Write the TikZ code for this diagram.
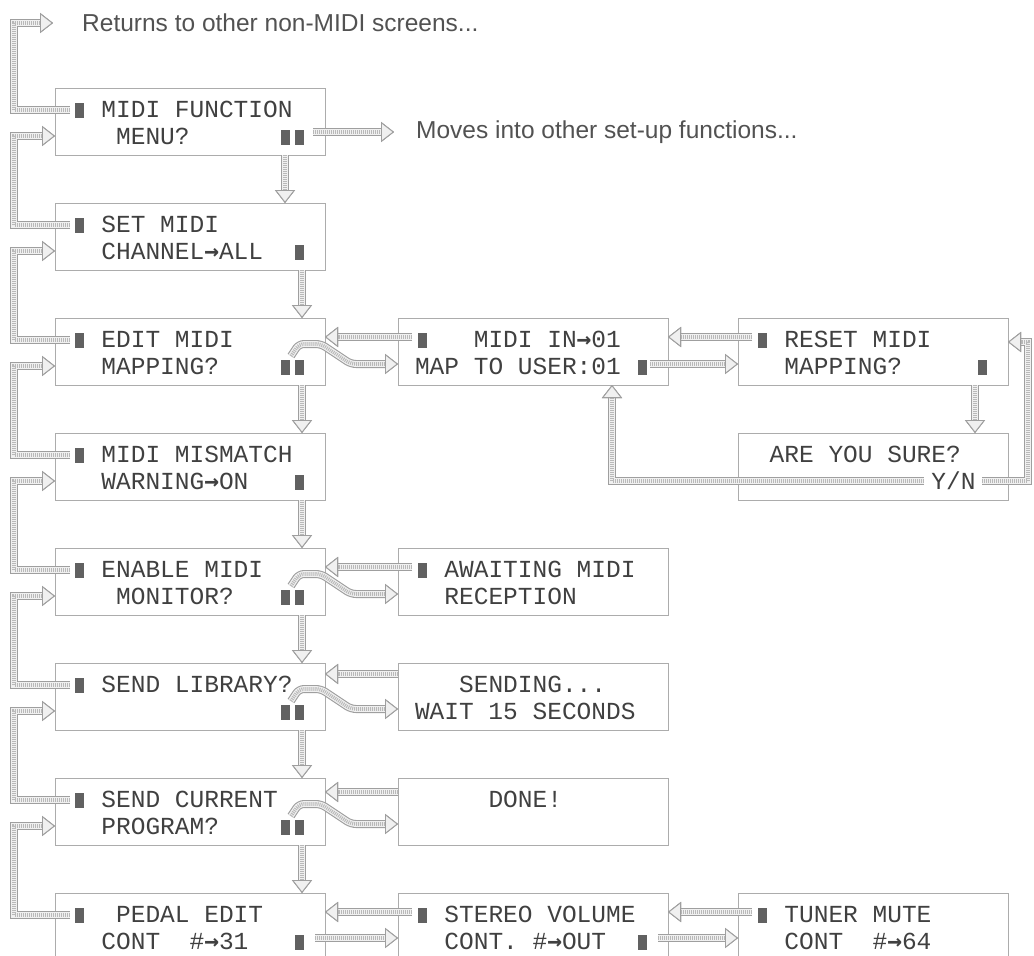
\documentclass[tikz,border=0pt]{standalone}
\usepackage{fontspec}
\setmainfont{Liberation Sans}
\newfontfamily\lcdmono{Liberation Mono}
\newfontfamily\arrfont{DejaVu Sans Mono}
\usepackage{tikz}
\usetikzlibrary{arrows.meta, positioning, calc}

\definecolor{curs}{gray}{0.38}
\newcommand\lcdfont{\lcdmono\fontsize{24.5pt}{27pt}\selectfont}
\newcommand\notefont{\fontsize{24.5pt}{28pt}\selectfont}
\newcommand\lcdcur{\makebox[14.7pt][c]{\textcolor{curs}{\rule[-0.5pt]{9pt}{15pt}}}}
\newcommand\lcdarr{\makebox[14.7pt][c]{\arrfont\bfseries →}}
\newcommand\lcd[2]{\spaceskip=14.7pt\xspaceskip=14.7pt\rule{0pt}{19pt}#1\\\mbox{}#2}

\tikzset{
  lcdbox/.style={draw=gray!65, line width=0.9pt, minimum width=270pt,
    minimum height=67pt, inner sep=0pt, outer sep=0pt, text width=236pt,
    align=left, font=\lcdfont, text=black!75},
  note/.style={font=\notefont, text=black!68, inner sep=0pt, anchor=west},
  fat/.style={line width=8pt, draw=gray!75,
    -{Triangle[length=13pt, width=20pt, line width=0.9pt, color=gray!75, fill=gray!12]},
    postaction={draw=gray!12, line width=5.8pt},
    postaction={draw=gray!55, line width=3.6pt, dash pattern=on 1pt off 1pt}},
}

\begin{document}
\begin{tikzpicture}[x=1pt, y=-1pt, node distance=48pt and 73pt]
  \useasboundingbox (0,0) rectangle (1034,956);

  % main column of screens
  \node[lcdbox, anchor=north west] (fn) at (55,88)
    {\lcd{\lcdcur~MIDI~FUNCTION}{~~~MENU?~~~~~~\lcdcur\lcdcur}};
  \node[lcdbox, below=of fn] (chan)
    {\lcd{\lcdcur~SET~MIDI}{~~CHANNEL\lcdarr ALL~~\lcdcur}};
  \node[lcdbox, below=of chan] (emap)
    {\lcd{\lcdcur~EDIT~MIDI}{~~MAPPING?~~~~\lcdcur\lcdcur}};
  \node[lcdbox, below=of emap] (mism)
    {\lcd{\lcdcur~MIDI~MISMATCH}{~~WARNING\lcdarr ON~~~\lcdcur}};
  \node[lcdbox, below=of mism] (mon)
    {\lcd{\lcdcur~ENABLE~MIDI}{~~~MONITOR?~~~\lcdcur\lcdcur}};
  \node[lcdbox, below=of mon] (lib)
    {\lcd{\lcdcur~SEND~LIBRARY?}{~~~~~~~~~~~~~~\lcdcur\lcdcur}};
  \node[lcdbox, below=of lib] (prog)
    {\lcd{\lcdcur~SEND~CURRENT}{~~PROGRAM?~~~~\lcdcur\lcdcur}};
  \node[lcdbox, below=of prog] (pedal)
    {\lcd{\lcdcur~~PEDAL~EDIT}{~~CONT~~\#\lcdarr 31~~~\lcdcur}};

  % sub screens
  \node[lcdbox, right=of emap] (midin)
    {\lcd{\lcdcur~~~MIDI~IN\lcdarr 01}{MAP~TO~USER:01~\lcdcur}};
  \node[lcdbox, right=70pt of midin] (reset)
    {\lcd{\lcdcur~RESET~MIDI}{~~MAPPING?~~~~~\lcdcur}};
  \node[lcdbox, below=of reset] (sure)
    {\lcd{~ARE~YOU~SURE?}{~~~~~~~~~~~~Y/N}};
  \node[lcdbox, right=of mon] (await)
    {\lcd{\lcdcur~AWAITING~MIDI}{~~RECEPTION}};
  \node[lcdbox, right=of lib] (sending)
    {\lcd{~~~SENDING...}{WAIT~15~SECONDS}};
  \node[lcdbox, right=of prog] (done)
    {\lcd{~~~~~DONE!}{}};
  \node[lcdbox, right=of pedal] (stereo)
    {\lcd{\lcdcur~STEREO~VOLUME}{~~CONT.~\#\lcdarr OUT~~\lcdcur}};
  \node[lcdbox, right=70pt of stereo] (tuner)
    {\lcd{\lcdcur~TUNER~MUTE}{~~CONT~~\#\lcdarr 64}};

  \node[note] (ret) at (82,23) {Returns to other non-MIDI screens...};
  \node[note] (mov) at ($(fn.north east)+(91,44)$) {Moves into other set-up functions...};

  % back up the column
  \draw[fat] ($(fn.north west)+(15,22)$) -- ++(-56,0) |- ([xshift=-29pt]ret.west);
  \foreach \a/\b in {fn/chan, chan/emap, emap/mism, mism/mon, mon/lib, lib/prog, prog/pedal}
    \draw[fat] ($(\b.north west)+(15,22)$) -- ++(-56,0) |- ($(\a.north west)+(0,48)$);

  % down the column
  \draw[fat] ($(fn.south east)+(-40,0)$) -- ($(chan.north east)+(-40,0)$);
  \foreach \a/\b in {chan/emap, emap/mism, mism/mon, mon/lib, lib/prog, prog/pedal}
    \draw[fat] ($(\a.south east)+(-23,0)$) -- ($(\b.north east)+(-23,0)$);

  \draw[fat] ($(fn.north east)+(-12,44)$) -- ([xshift=-22pt]mov.west);

  % into the sub screens
  \foreach \a/\b/\y in {emap/midin/19, mon/await/19}{
    \draw[fat] ($(\b.north west)+(14,\y)$) -- ($(\a.north east)+(0,\y)$);
    \draw[fat, rounded corners=5pt] ($(\a.north east)+(-34,38)$) -- ++(8,-12)
      -- ++(22,0) -- ++(30,20) -- ($(\b.north west)+(0,46)$);
  }
  \foreach \a/\b/\y in {lib/sending/11, prog/done/14}{
    \draw[fat] ($(\b.north west)+(0,\y)$) -- ($(\a.north east)+(0,\y)$);
    \draw[fat, rounded corners=5pt] ($(\a.north east)+(-34,38)$) -- ++(8,-12)
      -- ++(22,0) -- ++(30,20) -- ($(\b.north west)+(0,46)$);
  }

  \draw[fat] ($(reset.north west)+(14,19)$) -- ($(midin.north east)+(0,19)$);
  \draw[fat] ($(midin.north east)+(-18,46)$) -- ($(reset.north west)+(0,46)$);
  \draw[fat] ($(reset.south east)+(-33,0)$) -- ($(sure.north east)+(-33,0)$);
  \draw[fat] ($(sure.north west)+(186,48)$) -| ($(midin.south east)+(-56,0)$);
  \draw[fat] ($(sure.north west)+(244,48)$) -- ++(46,0) |- ($(reset.north east)+(0,24)$);

  \foreach \a/\b in {pedal/stereo, stereo/tuner}{
    \draw[fat] ($(\b.north west)+(14,19)$) -- ($(\a.north east)+(0,19)$);
    \draw[fat] ($(\a.north east)+(-10,45)$) -- ($(\b.north west)+(0,45)$);
  }
\end{tikzpicture}
\end{document}
